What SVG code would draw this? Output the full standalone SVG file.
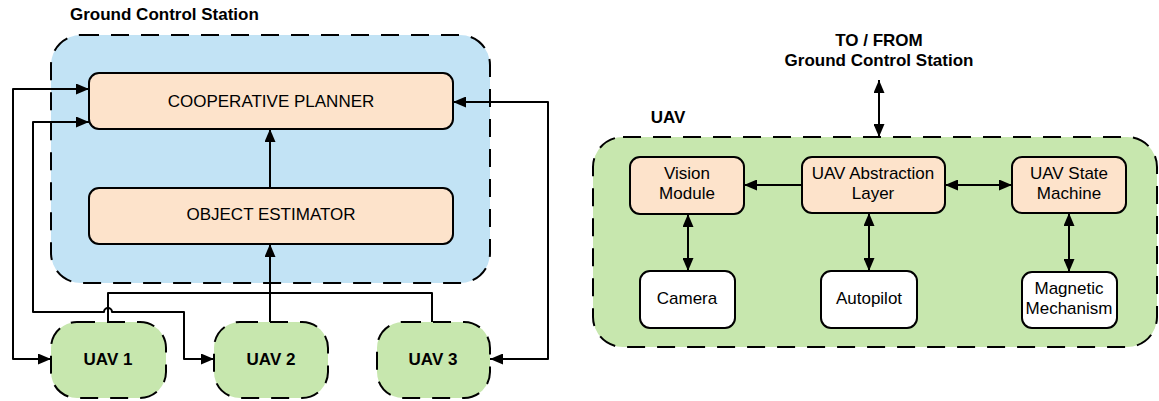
<svg xmlns="http://www.w3.org/2000/svg" width="1159" height="401" viewBox="0 0 1159 401">
  <defs>
    <marker id="arrow" markerUnits="userSpaceOnUse" markerWidth="13" markerHeight="11" refX="13" refY="5.5" orient="auto-start-reverse">
      <path d="M0,0 L13,5.5 L0,11 z" fill="#000"/>
    </marker>
    <style>
      .group { stroke: #000; stroke-width: 2; stroke-dasharray: 18 12; }
      .gcs { fill: #c2e3f5; }
      .uavbox { fill: #c7e7ae; }
      .proc { fill: #fde3cb; stroke: #000; stroke-width: 2; }
      .hw { fill: #fff; stroke: #000; stroke-width: 2; }
      .uav { fill: #c7e7ae; stroke: #000; stroke-width: 2; stroke-dasharray: 18 12; }
      .wire { fill: none; stroke: #000; stroke-width: 2; stroke-linejoin: round; }
      .t { font-family: "Liberation Sans", Arial, sans-serif; font-size: 17px; fill: #000; text-anchor: middle; }
      .b { font-family: "Liberation Sans", Arial, sans-serif; font-size: 17px; font-weight: bold; fill: #000; }
      .ub { font-family: "Liberation Sans", Arial, sans-serif; font-size: 17px; font-weight: bold; fill: #000; text-anchor: middle; }
    </style>
  </defs>

  <!-- Ground control station container -->
  <g id="gcs-group">
    <rect class="group gcs" x="51" y="35" width="439" height="248" rx="30"/>
    <text class="b" x="70" y="20">Ground Control Station</text>
  </g>

  <!-- UAV container -->
  <g id="uav-group">
    <rect class="group uavbox" x="593" y="137" width="564" height="210" rx="30"/>
    <text class="b" x="668" y="123" text-anchor="middle">UAV</text>
  </g>

  <g id="to-from-label">
    <text class="b" x="879" y="46" text-anchor="middle">TO / FROM</text>
    <text class="b" x="879" y="66" text-anchor="middle">Ground Control Station</text>
  </g>

  <!-- Connectors -->
  <g id="connectors">
    <path class="wire" d="M89,89 H13 V359 H51" marker-start="url(#arrow)" marker-end="url(#arrow)"/>
    <path class="wire" d="M89,122 H33 V312 H104 A4,4 0 0 1 112,312 H184 V359 H214" marker-start="url(#arrow)" marker-end="url(#arrow)"/>
    <path class="wire" d="M453,102 H548 V359 H490" marker-start="url(#arrow)" marker-end="url(#arrow)"/>
    <path class="wire" d="M108,322 V293 H270"/>
    <path class="wire" d="M432,322 V293 H270"/>
    <path class="wire" d="M270,322 V244" marker-end="url(#arrow)"/>
    <path class="wire" d="M270,188 V129" marker-end="url(#arrow)"/>

    <path class="wire" d="M879,80 V137" marker-start="url(#arrow)" marker-end="url(#arrow)"/>
    <path class="wire" d="M802,185 H744" marker-end="url(#arrow)"/>
    <path class="wire" d="M945,185 H1012" marker-start="url(#arrow)" marker-end="url(#arrow)"/>
    <path class="wire" d="M688,214 V271" marker-start="url(#arrow)" marker-end="url(#arrow)"/>
    <path class="wire" d="M869,213 V271" marker-start="url(#arrow)" marker-end="url(#arrow)"/>
    <path class="wire" d="M1069,213 V272" marker-start="url(#arrow)" marker-end="url(#arrow)"/>
  </g>

  <!-- Ground station nodes -->
  <g id="cooperative-planner">
    <rect class="proc" x="89" y="73" width="364" height="56" rx="10"/>
    <text class="t" x="271" y="107">COOPERATIVE PLANNER</text>
  </g>
  <g id="object-estimator">
    <rect class="proc" x="89" y="188" width="364" height="56" rx="10"/>
    <text class="t" x="271" y="220">OBJECT ESTIMATOR</text>
  </g>

  <!-- Vehicles -->
  <g id="uav1">
    <rect class="uav" x="51" y="322" width="115" height="76" rx="26"/>
    <text class="ub" x="108" y="365">UAV 1</text>
  </g>
  <g id="uav2">
    <rect class="uav" x="214" y="322" width="114" height="76" rx="26"/>
    <text class="ub" x="271" y="365">UAV 2</text>
  </g>
  <g id="uav3">
    <rect class="uav" x="377" y="322" width="113" height="76" rx="26"/>
    <text class="ub" x="433" y="365">UAV 3</text>
  </g>

  <!-- Onboard modules -->
  <g id="vision-module">
    <rect class="proc" x="630" y="157" width="114" height="57" rx="10"/>
    <text class="t" x="687" y="179">Vision</text>
    <text class="t" x="687" y="199">Module</text>
  </g>
  <g id="abstraction-layer">
    <rect class="proc" x="802" y="157" width="143" height="56" rx="10"/>
    <text class="t" x="873" y="179">UAV Abstraction</text>
    <text class="t" x="873" y="199">Layer</text>
  </g>
  <g id="state-machine">
    <rect class="proc" x="1012" y="157" width="114" height="56" rx="10"/>
    <text class="t" x="1069" y="179">UAV State</text>
    <text class="t" x="1069" y="199">Machine</text>
  </g>
  <g id="camera">
    <rect class="hw" x="640" y="271" width="95" height="57" rx="10"/>
    <text class="t" x="687" y="304">Camera</text>
  </g>
  <g id="autopilot">
    <rect class="hw" x="821" y="271" width="96" height="57" rx="10"/>
    <text class="t" x="869" y="304">Autopilot</text>
  </g>
  <g id="magnetic-mechanism">
    <rect class="hw" x="1022" y="272" width="95" height="56" rx="10"/>
    <text class="t" x="1069" y="294">Magnetic</text>
    <text class="t" x="1069" y="314">Mechanism</text>
  </g>
</svg>
